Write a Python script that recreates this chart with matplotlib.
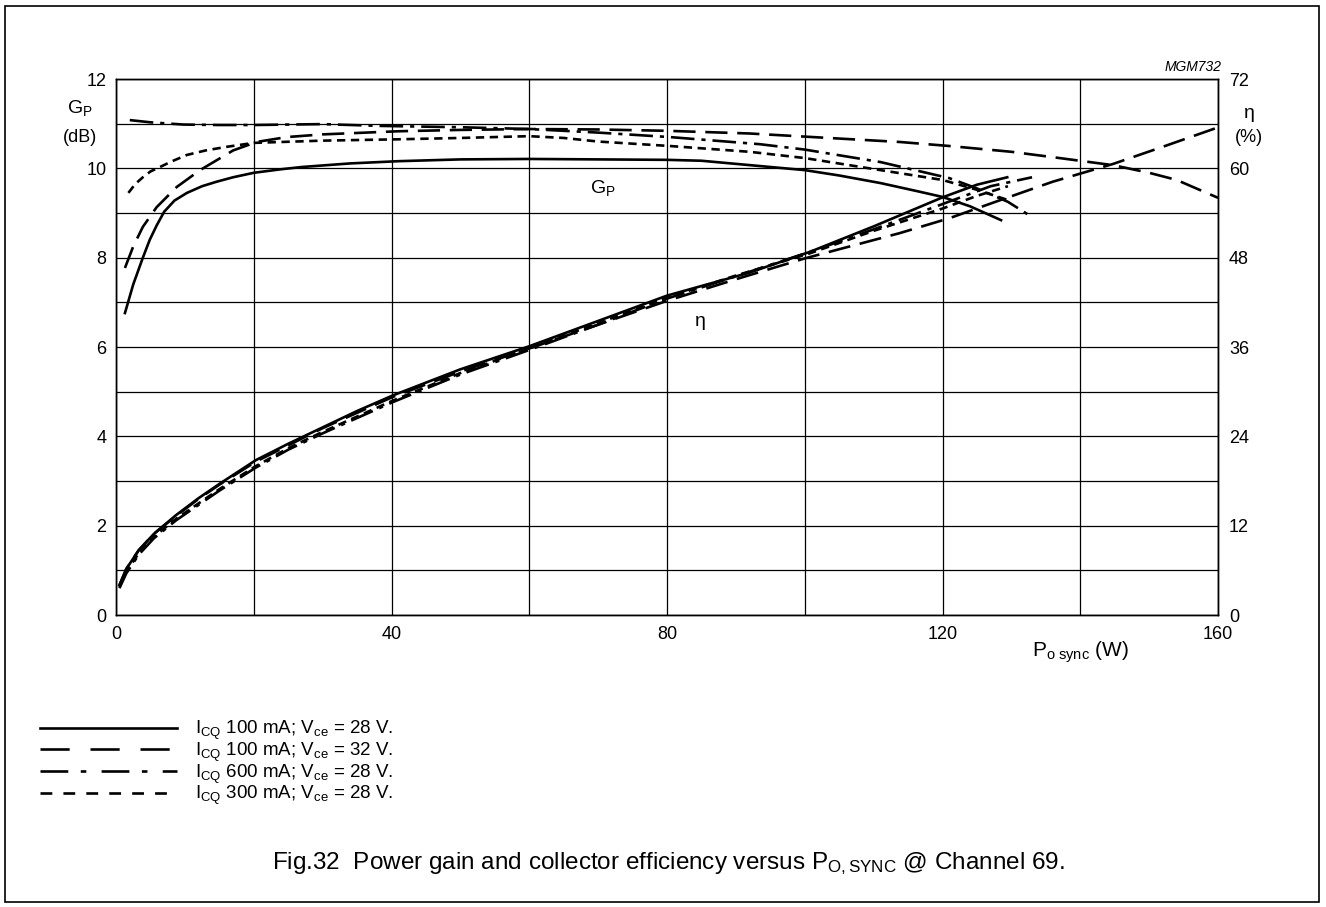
import matplotlib
matplotlib.use('Agg')
import matplotlib.pyplot as plt
from matplotlib.lines import Line2D
from matplotlib.patches import Rectangle
from matplotlib.ticker import MultipleLocator

plt.rcParams['font.family'] = ['Liberation Sans', 'DejaVu Sans']
plt.rcParams['mathtext.fontset'] = 'custom'
plt.rcParams['mathtext.rm'] = 'Liberation Sans'
plt.rcParams['mathtext.it'] = 'Liberation Sans:italic'
plt.rcParams['lines.scale_dashes'] = False

# --- gain curves, Gp (dB) vs Po sync (W) ---
gp_100_28_w = [1.3, 2.5, 3.9, 4.9, 5.9, 7.0, 8.5, 10.3, 12.5, 14.6, 17, 20, 24, 27, 34, 41, 50, 60, 70, 80, 85, 90, 95, 100, 105, 111, 116, 120, 124, 128.5]
gp_100_28 = [6.76, 7.4, 8.0, 8.4, 8.72, 9.03, 9.28, 9.45, 9.6, 9.7, 9.8, 9.9, 9.98, 10.03, 10.11, 10.16, 10.2, 10.21, 10.2, 10.19, 10.17, 10.1, 10.03, 9.96, 9.84, 9.67, 9.5, 9.36, 9.15, 8.84]

gp_100_32_w = [1.3, 2.5, 3.9, 5.9, 8.8, 12.2, 17, 20.4, 24.8, 30, 41, 50, 60, 70, 80, 92, 100, 113.8, 121, 130, 137, 144.8, 150, 154, 160]
gp_100_32 = [7.77, 8.25, 8.69, 9.13, 9.58, 9.96, 10.4, 10.59, 10.7, 10.76, 10.83, 10.86, 10.88, 10.87, 10.84, 10.78, 10.71, 10.59, 10.5, 10.37, 10.23, 10.07, 9.9, 9.74, 9.34]

gp_600_28_w = [2, 5, 9.8, 15, 20, 30, 38.3, 50, 60, 70, 80.4, 93.5, 100, 111, 121, 125, 129.5, 133]
gp_600_28 = [11.08, 11.03, 10.98, 10.97, 10.97, 10.99, 10.95, 10.92, 10.88, 10.8, 10.7, 10.54, 10.42, 10.14, 9.78, 9.55, 9.25, 8.91]

gp_300_28_w = [1.8, 2.8, 3.9, 5, 6.4, 8, 10.3, 13, 16, 20, 30, 41, 50, 60, 65, 70, 80.4, 92, 100, 111, 120, 125, 129.5]
gp_300_28 = [9.45, 9.65, 9.8, 9.93, 10.03, 10.15, 10.3, 10.4, 10.48, 10.57, 10.62, 10.65, 10.68, 10.72, 10.68, 10.6, 10.5, 10.37, 10.23, 9.96, 9.74, 9.52, 9.29]

# --- efficiency curves, eta (%) vs Po sync (W) ---
eta_100_28_w = [0.5, 1.5, 3.3, 5.5, 8.7, 12, 15, 20.3, 25, 30, 35, 40.2, 50, 60, 70, 80, 92, 100.8, 110, 120, 125, 129.4]
eta_100_28 = [4.0, 6.2, 8.7, 10.9, 13.4, 15.7, 17.6, 20.8, 23.0, 25.2, 27.4, 29.5, 33.0, 36.1, 39.5, 42.9, 46.0, 48.8, 52.2, 56.1, 57.8, 58.8]

eta_100_32_w = [0.5, 1.5, 3.3, 5.5, 8.7, 12, 15, 20.3, 30, 40.2, 50, 60, 70, 80, 90, 100, 113.8, 121, 128.3, 136, 144.8, 152, 160]
eta_100_32 = [4.0, 6.2, 8.7, 10.9, 13.3, 15.6, 17.5, 20.6, 25.1, 29.3, 32.7, 35.8, 39.0, 42.2, 45.1, 47.9, 51.3, 53.3, 55.7, 58.2, 60.6, 62.9, 65.5]

eta_600_28_w = [0.5, 1.5, 3.3, 5.5, 8.7, 12, 15, 20.3, 25, 30, 40.2, 50, 60, 70, 80, 90, 100.8, 110, 120, 127, 133]
eta_600_28 = [3.6, 5.6, 8.1, 10.3, 12.7, 14.8, 16.7, 19.8, 22.2, 24.4, 28.6, 32.3, 35.6, 39.0, 42.5, 45.5, 48.8, 51.8, 55.2, 57.6, 58.8]

eta_300_28_w = [0.5, 1.5, 3.3, 5.5, 8.7, 12, 15, 20.3, 25, 30, 40.2, 50, 60, 70, 80, 90, 100.8, 110, 120, 125, 129.5]
eta_300_28 = [3.8, 5.8, 8.3, 10.5, 12.9, 15.0, 16.9, 20.0, 22.4, 24.6, 28.8, 32.5, 35.8, 39.2, 42.6, 45.6, 48.6, 51.6, 54.6, 56.3, 57.6]

labels = [r'$\mathregular{I_{CQ}}$ 100 mA; $\mathregular{V_{ce}}$ = 28 V.',
          r'$\mathregular{I_{CQ}}$ 100 mA; $\mathregular{V_{ce}}$ = 32 V.',
          r'$\mathregular{I_{CQ}}$ 600 mA; $\mathregular{V_{ce}}$ = 28 V.',
          r'$\mathregular{I_{CQ}}$ 300 mA; $\mathregular{V_{ce}}$ = 28 V.']

# dash patterns in points: chart and legend versions
chart_styles = ['-', (0, (16, 7)), (0, (17, 5, 3, 5)), (0, (6, 4))]
legend_styles = ['-', (0, (21, 15)), (0, (20, 9, 4, 11)), (0, (8.5, 8))]
lw = 1.9

fig = plt.figure(figsize=(13.26, 9.07), dpi=100)
ax = fig.add_axes([116/1326, 292/907, 1102/1326, 536/907])
ax2 = ax.twinx()

gain_sets = [(gp_100_28_w, gp_100_28), (gp_100_32_w, gp_100_32), (gp_600_28_w, gp_600_28), (gp_300_28_w, gp_300_28)]
eta_sets = [(eta_100_28_w, eta_100_28), (eta_100_32_w, eta_100_32), (eta_600_28_w, eta_600_28), (eta_300_28_w, eta_300_28)]

for (w, g), ls in zip(gain_sets, chart_styles):
    ax.plot(w, g, color='black', lw=lw, ls=ls)
for (w, e), ls in zip(eta_sets, chart_styles):
    ax2.plot(w, e, color='black', lw=lw, ls=ls)

ax.set_xlim(0, 160)
ax.set_ylim(0, 12)
ax2.set_ylim(0, 72)
ax.xaxis.set_major_locator(MultipleLocator(40))
ax.xaxis.set_minor_locator(MultipleLocator(20))
ax.yaxis.set_major_locator(MultipleLocator(2))
ax.yaxis.set_minor_locator(MultipleLocator(1))
ax2.yaxis.set_major_locator(MultipleLocator(12))
ax.grid(which='both', color='black', lw=0.9)
ax.tick_params(which='both', length=0, labelsize=13, colors='black')
ax.tick_params(axis='y', pad=7)
ax.tick_params(axis='x', pad=8)
ax2.tick_params(length=0, labelsize=13, pad=8)
for a in (ax, ax2):
    for s in a.spines.values():
        s.set_linewidth(1.0)

# axis labels
ax.text(-0.033, 0.945, r'$\mathregular{G_P}$', transform=ax.transAxes, fontsize=14, ha='center', va='center')
ax.text(-0.033, 0.89, '(dB)', transform=ax.transAxes, fontsize=13, ha='center', va='center')
ax.text(1.0285, 0.935, 'η', transform=ax.transAxes, fontsize=14, ha='center', va='center')
ax.text(1.0285, 0.89, '(%)', transform=ax.transAxes, fontsize=13, ha='center', va='center')
ax.text(1.003, 1.01, 'MGM732', transform=ax.transAxes, fontsize=10, style='italic', ha='right', va='bottom')
ax.text(0.831, -0.07, r'$\mathregular{P_{o\ sync}}$ (W)', transform=ax.transAxes, fontsize=15, ha='left', va='center')

# curve labels inside
ax.text(70.7, 9.55, r'$\mathregular{G_P}$', fontsize=14, ha='center', va='center')
ax.text(84.8, 6.56, 'η', fontsize=14, ha='center', va='center')

handles = [Line2D([], [], color='black', lw=lw, ls=ls) for ls in legend_styles]
fig.legend(handles, labels, loc='upper left', bbox_to_anchor=(40/1326, 1 - 719/907),
           frameon=False, fontsize=13.5, handlelength=7.3, handletextpad=0.95,
           borderpad=0, borderaxespad=0, labelspacing=-0.08)

fig.text(0.504, 1 - 864/907, r'Fig.32  Power gain and collector efficiency versus $\mathregular{P_{O,SYNC}}$ @ Channel 69.',
         fontsize=17.5, ha='center', va='center')

fig.patches.append(Rectangle((5/1326, 5/907), 1314/1326, 896/907, transform=fig.transFigure,
                             fill=False, edgecolor='black', lw=1.2))

fig.savefig('out.png', dpi=100)
